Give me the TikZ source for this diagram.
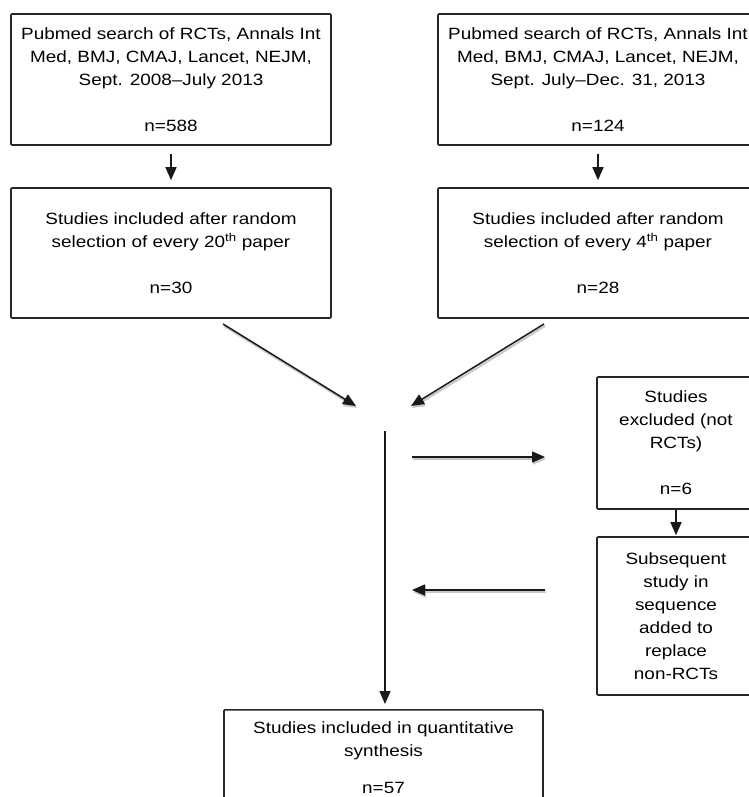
\documentclass[tikz,border=0pt]{standalone}
\usepackage{fontspec}
\setmainfont[FakeStretch=1.16]{Liberation Sans}
\usetikzlibrary{positioning}
\usetikzlibrary{calc}
\usetikzlibrary{arrows.meta}

\tikzset{
  box/.style={draw=black!85, line width=1.6pt, rounded corners=1pt, align=center,
    font=\fontsize{16.3}{23}\selectfont, inner sep=0pt, text=black},
  arr/.style={line width=1.5pt, draw=black!90, -{Triangle[length=13pt,width=11pt]}},
  shady/.style={preaction={draw=black!22, line width=2pt, transform canvas={shift={(1pt,-2pt)}}}}
}

\begin{document}
\begin{tikzpicture}[x=1pt, y=-1pt]
    \useasboundingbox (0,0) rectangle (748,797);

    % searches
    \node[box, minimum width=320pt, minimum height=131pt] (search1) at (171,79.5)
        {Pubmed search of RCTs, Annals Int\\Med, BMJ, CMAJ, Lancet, NEJM,\\Sept. 2008--July 2013\\[23pt]n=588};
    \node[box, minimum width=320pt, minimum height=131pt] (search2) at (598,79.5)
        {Pubmed search of RCTs, Annals Int\\Med, BMJ, CMAJ, Lancet, NEJM,\\Sept. July--Dec. 31, 2013\\[23pt]n=124};

    % selection
    \node[box, minimum width=320pt, minimum height=130pt] (incl1) at (171,253)
        {Studies included after random\\selection of every 20\textsuperscript{th} paper\\[23pt]n=30};
    \node[box, minimum width=320pt, minimum height=130pt] (incl2) at (598,253)
        {Studies included after random\\selection of every 4\textsuperscript{th} paper\\[23pt]n=28};

    % exclusions
    \node[box, minimum width=158pt, minimum height=132pt] (excl) at (676,443)
        {Studies\\excluded (not\\RCTs)\\[23pt]n=6};
    \node[box, minimum width=158pt, minimum height=158pt] (subs) at (676,616)
        {Subsequent\\study in\\sequence\\added to\\replace\\non-RCTs};

    \node[box, anchor=north, minimum width=319pt, minimum height=96pt] (synth) at (383.5,709)
        {Studies included in quantitative\\synthesis\\[14pt]n=57};

    \coordinate (l1) at (223,324);
    \coordinate (l2) at (356,406);
    \coordinate (r1) at (544,324);
    \coordinate (r2) at (411,406);
    \coordinate (vtop) at (385,431);
    \coordinate (h1) at (412,457);
    \coordinate (h2) at (545,457);
    \coordinate (h3) at (545,590);
    \coordinate (h4) at (412,590);

    \draw[arr, shorten <=8pt, shorten >=7pt] (search1) -- (incl1);
    \draw[arr, shorten <=8pt, shorten >=7pt] (search2) -- (incl2);
    \draw[arr, shorten >=1pt] (excl) -- (subs);

    \draw[arr, shady] (l1) -- (l2);
    \draw[arr, shady] (r1) -- (r2);
    \draw[arr, shady] (h1) -- (h2);
    \draw[arr, shady] (h3) -- (h4);

    \draw[arr, shorten >=5pt] (vtop) -- (vtop |- synth.north);
\end{tikzpicture}
\end{document}
